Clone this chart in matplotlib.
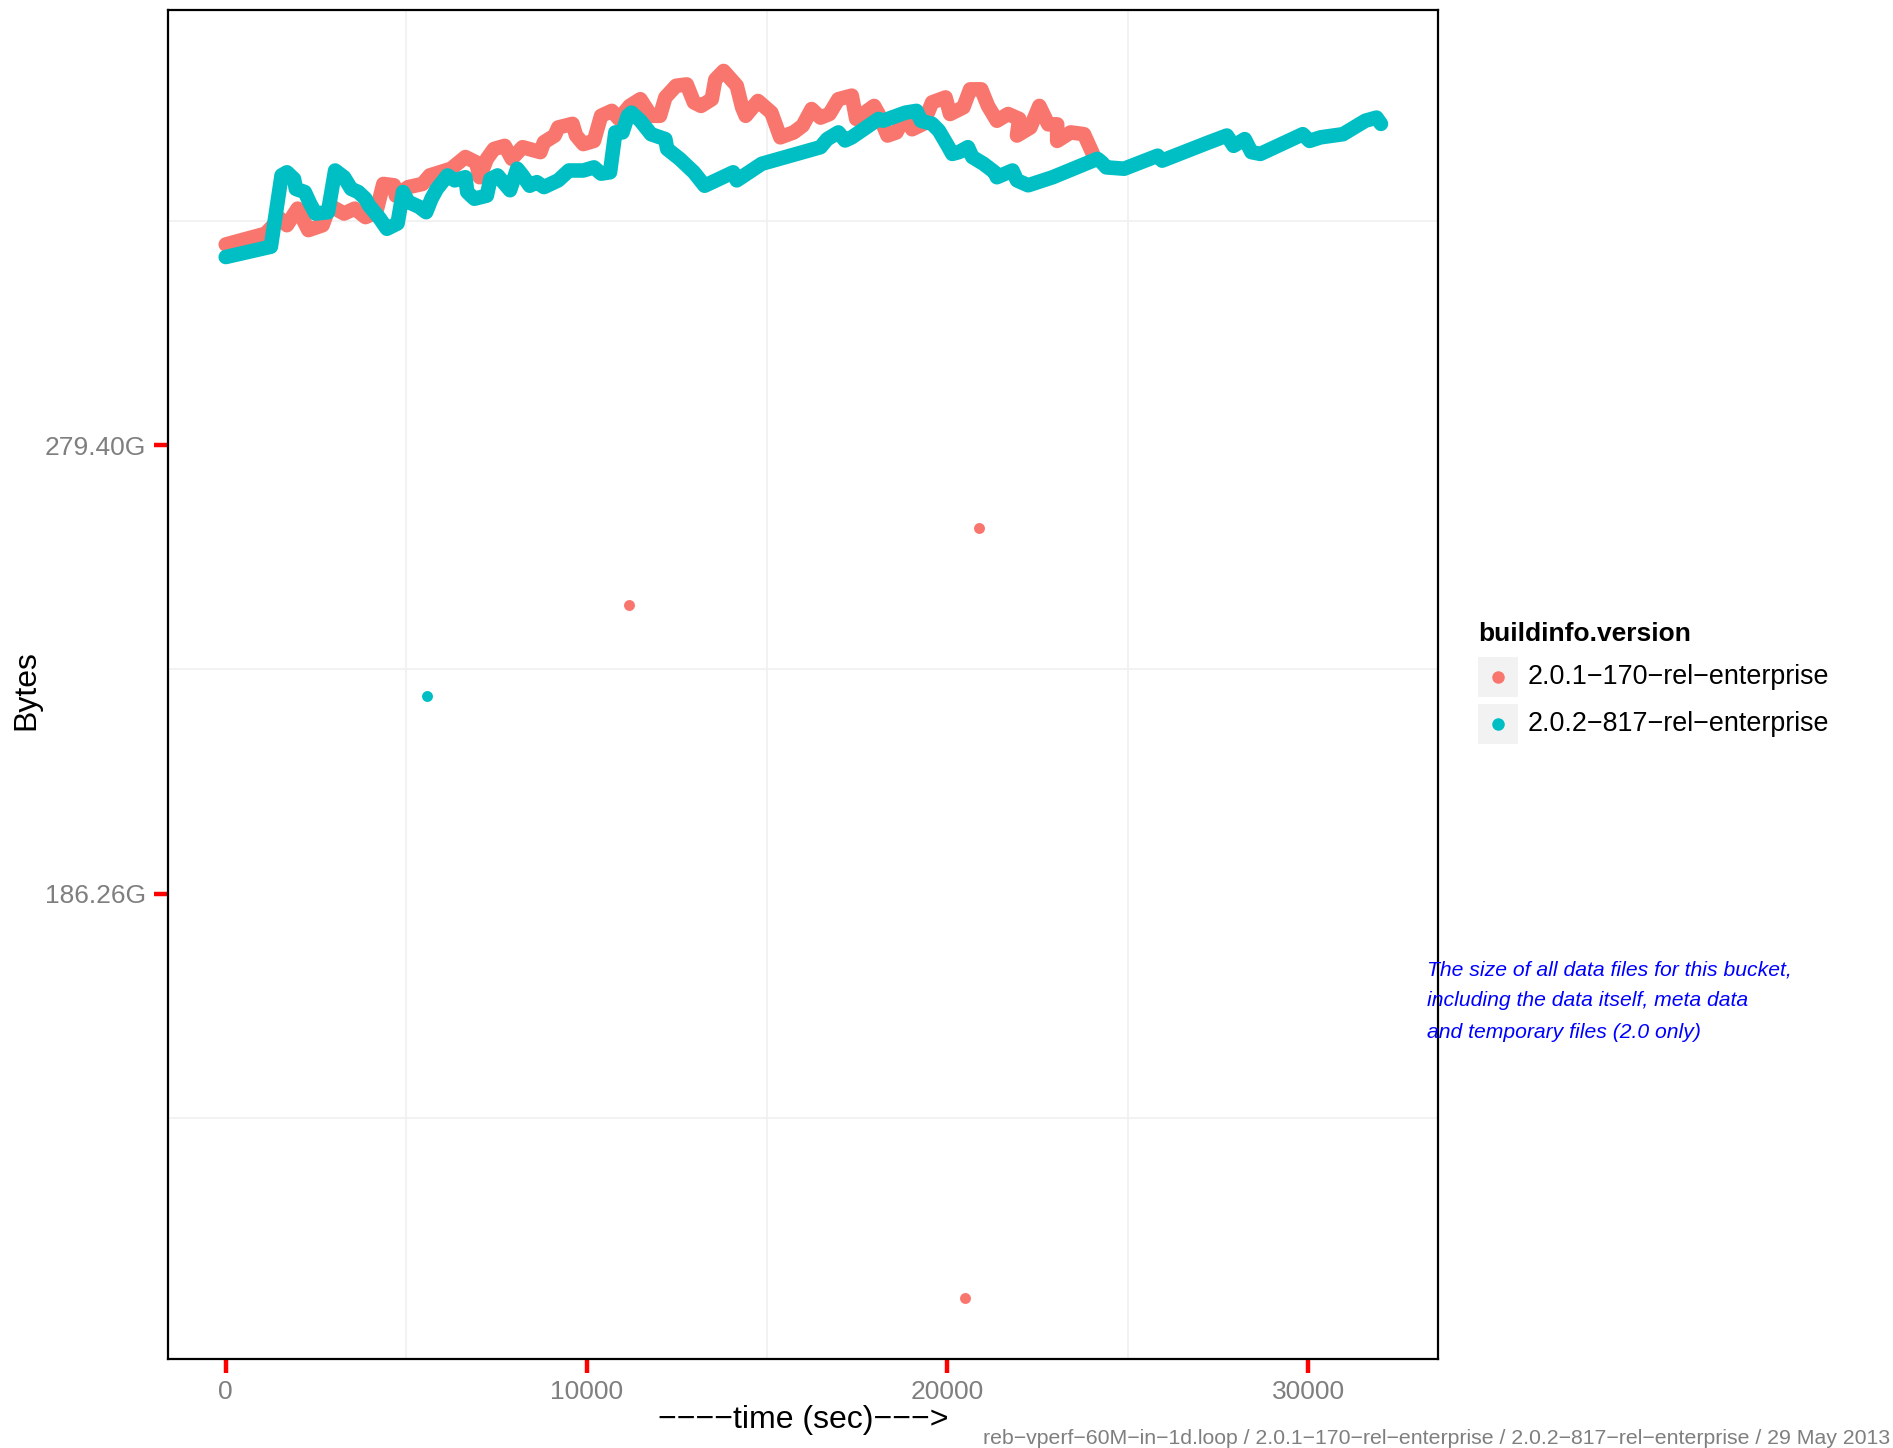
import matplotlib
matplotlib.use('Agg')
import matplotlib.pyplot as plt
from matplotlib.patches import Rectangle
from matplotlib.lines import Line2D

plt.rcParams['font.family'] = ['Liberation Sans', 'DejaVu Sans']

# series: time (sec), size in GB (1e9 bytes)
red_x = [0, 1102, 1498, 1696, 1993, 2290, 2685, 2883, 3279, 3576, 3873, 4170, 4367, 4664,
         4714, 5060, 5456, 5654, 6248, 6643, 6940, 7039, 7237, 7435, 7732, 7930, 8227, 8721,
         8820, 9117, 9216, 9612, 9711, 9909, 10206, 10403, 10700, 10898, 11195, 11492, 11789,
         12036, 12185, 12482, 12778, 12976, 13174, 13471, 13570, 13800, 14164, 14312, 14411,
         14752, 15124, 15371, 15743, 15990, 16238, 16485, 16733, 16980, 17352, 17475,
         17970, 18094, 18342, 18589, 18837, 19023, 19332, 19579, 19951, 20075, 20446, 20632,
         20941, 21127, 21374, 21684, 21993, 21931, 22302, 22550, 22798, 23045, 23045, 23416,
         23788, 24035]
red_y = [344.8, 347.2, 350.6, 349.1, 352.8, 348.0, 349.1, 353.5, 351.7, 352.8, 350.9, 352.0,
         358.3, 358.0, 355.7, 357.6, 358.3, 360.2, 361.7, 364.3, 363.1, 359.8, 363.9, 366.1,
         366.8, 363.9, 366.5, 365.4, 367.6, 369.1, 370.9, 371.7, 369.1, 367.2, 367.9, 373.5,
         374.6, 372.8, 375.7, 377.2, 373.5, 373.5, 377.6, 380.2, 380.5, 376.5, 375.7, 377.2,
         381.6, 383.5, 380.2, 375.4, 373.5, 376.8, 374.2, 368.7, 369.8, 371.3,
         375.0, 373.1, 373.9, 377.2, 378.0, 372.8, 375.7, 373.9, 369.1, 369.8, 373.5, 370.5,
         371.7, 376.5, 377.6, 373.9, 375.4, 379.4, 379.4, 375.7, 372.4, 373.9, 372.8, 369.1,
         370.9, 375.7, 371.6, 371.6, 367.9, 369.8, 369.4, 365.0]

cyan_x = [0, 1251, 1547, 1696, 1894, 1943, 2191, 2339, 2488, 2834, 3032, 3279, 3477, 3675,
          3873, 3972, 4269, 4467, 4763, 4912, 5060, 5357, 5555, 5703, 5852, 6149, 6346, 6643,
          6693, 6891, 7237, 7336, 7534, 7732, 7880, 8079, 8227, 8425, 8622, 8820, 9216, 9513,
          9909, 10206, 10403, 10651, 10799, 10997, 11146, 11245, 11492, 11789, 12185, 12235,
          12581, 12976, 13273, 14065, 14164, 14856, 16485, 16671, 16980, 17166, 17352, 18094,
          18218, 18837, 19146, 19270, 19579, 19765, 20013, 20137, 20322, 20570, 20694, 21003,
          21312, 21374, 21807, 21931, 22240, 22921, 24159, 24283, 24407, 24902, 25830, 25954,
          27253, 27748, 27934, 28243, 28429, 28677, 29852, 30038, 30348, 30967, 31585, 31895,
          32019]
cyan_y = [342.0, 344.3, 360.2, 360.9, 359.4, 357.2, 356.5, 353.9, 351.7, 352.0, 361.3, 359.8,
          357.2, 356.5, 355.0, 353.5, 350.6, 348.3, 349.5, 356.5, 354.3, 353.2, 352.0, 355.0,
          357.2, 360.2, 359.1, 359.8, 356.5, 355.0, 355.7, 359.4, 360.2, 358.3, 356.9, 361.7,
          360.2, 357.9, 358.7, 357.6, 359.1, 361.3, 361.3, 362.0, 360.6, 360.9, 369.8, 369.8,
          373.5, 374.2, 372.4, 369.4, 368.3, 366.1, 363.9, 360.9, 357.9, 360.9, 359.1, 362.8,
          366.5, 368.3, 369.8, 368.0, 368.7, 372.8, 372.4, 374.2, 374.6, 372.4, 371.7, 370.2,
          366.8, 365.0, 365.4, 366.5, 364.3, 362.8, 360.9, 359.8, 361.3, 359.1, 358.0, 359.8,
          363.9, 363.1, 362.0, 361.7, 364.6, 363.5, 367.6, 369.1, 366.8, 368.3, 365.4, 365.0,
          369.4, 367.9, 368.7, 369.4, 372.4, 373.1, 371.7]

# stray single samples
red_out_x = [20873, 11172, 20501]
red_out_y = [281.5, 264.3, 109.9]
cyan_out_x = [5587]
cyan_out_y = [244.0]

versions = ['2.0.1\u2212170\u2212rel\u2212enterprise', '2.0.2\u2212817\u2212rel\u2212enterprise']
colors = ['#F8766D', '#00BFC4']
y_ticks = [200, 300]
x_ticks = [0, 10000, 20000, 30000]

W, H = 1893, 1448
fig = plt.figure(figsize=(W / 100, H / 100), dpi=100)
ax = fig.add_axes([168 / W, 1 - 1359 / H, (1438 - 168) / W, (1359 - 10) / H])

# minor grid
for gx in [5000, 15000, 25000]:
    ax.axvline(gx, color='#F0F0F0', lw=1.2, zorder=0)
for gy in [150, 250, 350]:
    ax.axhline(gy, color='#F0F0F0', lw=1.2, zorder=0)

ax.plot(red_x, red_y, color=colors[0], lw=10.5, solid_capstyle='round', solid_joinstyle='round', zorder=2)
ax.plot(cyan_x, cyan_y, color=colors[1], lw=10.5, solid_capstyle='round', solid_joinstyle='round', zorder=3)
ax.scatter(red_out_x, red_out_y, s=62, color=colors[0], lw=0, zorder=3)
ax.scatter(cyan_out_x, cyan_out_y, s=62, color=colors[1], lw=0, zorder=3)

ax.set_xlim(-1600, 33600)
ax.set_ylim(96.2, 397.1)
ax.set_xticks(x_ticks)
ax.set_xticklabels([str(t) for t in x_ticks])
ax.set_yticks(y_ticks)
ax.set_yticklabels(['%.2fG' % (t * 1e9 / 2 ** 30) for t in y_ticks])
ax.tick_params(colors='red', length=10, width=3.2, labelcolor='#7F7F7F', labelsize=19)
ax.tick_params(axis='y', pad=6)
ax.tick_params(axis='x', pad=5)
for sp in ax.spines.values():
    sp.set_linewidth(1.6)
    sp.set_color('black')

ax.set_xlabel('\u2212\u2212\u2212\u2212time (sec)\u2212\u2212\u2212>', fontsize=23, labelpad=1)
fig.text(26.5 / W, 1 - 690 / H, 'Bytes', rotation=90, fontsize=23, ha='center', va='center')

# legend
fig.text(1478 / W, 1 - 634 / H, 'buildinfo.version', fontsize=19, fontweight='bold', ha='left', va='center')
for i, (lab, c) in enumerate(zip(versions, colors)):
    cy = 677 + i * 47
    fig.patches.append(Rectangle((1478 / W, 1 - (cy + 20) / H), 40 / W, 40 / H,
                                 transform=fig.transFigure, facecolor='#F2F2F2', edgecolor='none'))
    fig.lines.append(Line2D([1498 / W], [1 - cy / H], transform=fig.transFigure,
                            marker='o', markersize=8, color=c, lw=0))
    fig.text(1528 / W, 1 - cy / H, lab, fontsize=19.4, ha='left', va='center')

fig.text(1427 / W, 1 - 1001 / H,
         'The size of all data files for this bucket,\nincluding the data itself, meta data\nand temporary files (2.0 only)',
         fontsize=15.25, style='italic', color='blue', ha='left', va='center', linespacing=1.8)

fig.text(1890 / W, 1 - 1438 / H,
         'reb\u2212vperf\u221260M\u2212in\u22121d.loop / 2.0.1\u2212170\u2212rel\u2212enterprise / '
         '2.0.2\u2212817\u2212rel\u2212enterprise / 29 May 2013',
         fontsize=15.3, color='#7F7F7F', ha='right', va='center')

fig.savefig('out.png', dpi=100)
